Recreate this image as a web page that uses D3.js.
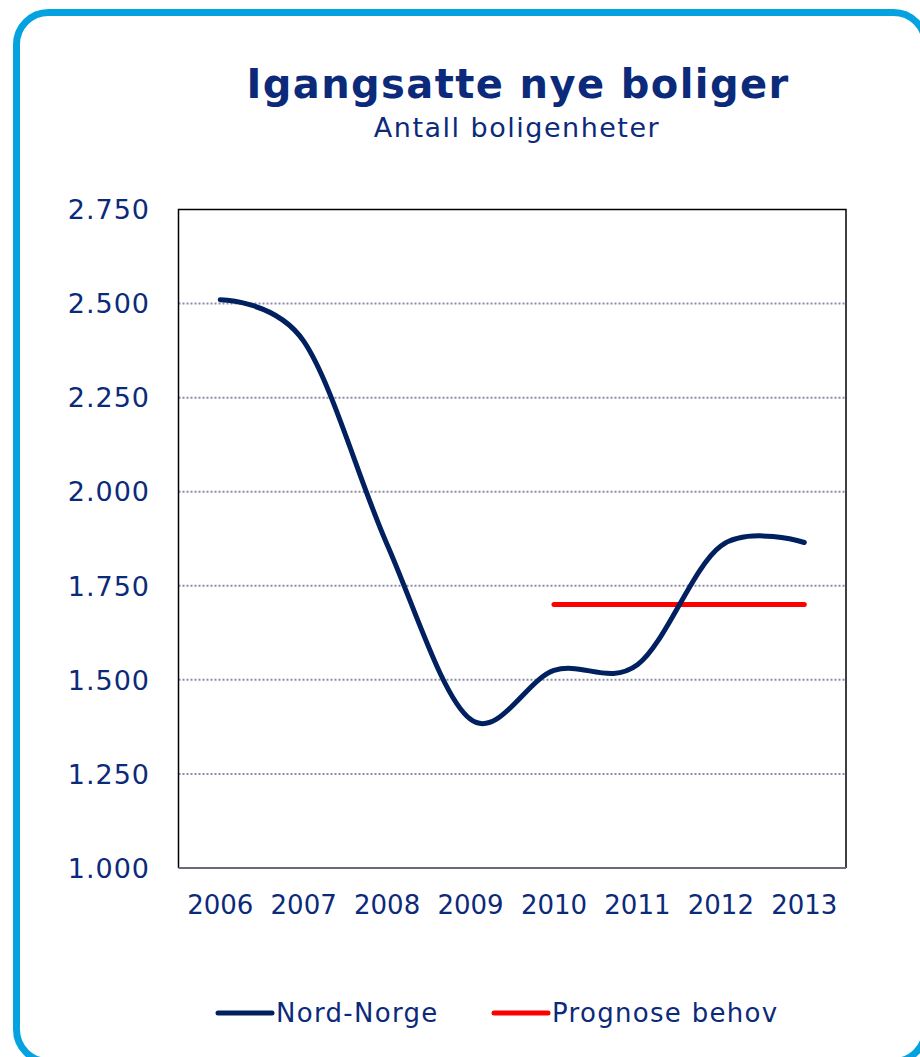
<!DOCTYPE html>
<html>
<head>
<meta charset="utf-8">
<script src="https://cdn.jsdelivr.net/npm/d3@7"></script>
<style>
  body { margin: 0; background: #fff; }
  svg { display: block; font-family: "DejaVu Sans", Verdana, sans-serif; }
</style>
</head>
<body>
<div id="chart"></div>
<script>
// Igangsatte nye boliger - Nord-Norge vs prognose
const years = ["2006", "2007", "2008", "2009", "2010", "2011", "2012", "2013"];
const nordNorge = [2510, 2400, 1860, 1395, 1525, 1540, 1856, 1865];
const prognoseYears = ["2010", "2011", "2012", "2013"];
const prognose = [1700, 1700, 1700, 1700];
const yTicks = [1000, 1250, 1500, 1750, 2000, 2250, 2500, 2750];
const legendLabels = ["Nord-Norge", "Prognose behov"];

const W = 920, H = 1057;
const textColor = "#0c2a7a";
const navy = "#00205f";
const red = "#ff0000";

const svg = d3.select("#chart").append("svg")
    .attr("width", W).attr("height", H);

// rounded frame
svg.append("rect")
    .attr("x", 16.5).attr("y", 12.5)
    .attr("width", 909).attr("height", 1049)
    .attr("rx", 32).attr("ry", 32)
    .attr("fill", "#fff").attr("stroke", "#05a2e0").attr("stroke-width", 7);

// titles
svg.append("text").attr("x", 518).attr("y", 98)
    .attr("text-anchor", "middle").attr("fill", textColor)
    .attr("font-size", 40).attr("font-weight", "bold")
    .attr("letter-spacing", 1.4)
    .text("Igangsatte nye boliger");
svg.append("text").attr("x", 517).attr("y", 137)
    .attr("text-anchor", "middle").attr("fill", textColor)
    .attr("font-size", 27).attr("letter-spacing", 1.5)
    .text("Antall boligenheter");

const plot = {left: 178.5, right: 846, top: 209.5, bottom: 868};

const x = d3.scaleBand().domain(years).range([plot.left, plot.right]);
const y = d3.scaleLinear().domain([1000, 2750]).range([plot.bottom, plot.top]);
const cx = d => x(d) + x.bandwidth() / 2;

// gridlines
svg.append("g").selectAll("line")
    .data(yTicks.filter(t => t > 1000 && t < 2750))
    .join("line")
    .attr("x1", plot.left).attr("x2", plot.right)
    .attr("y1", d => y(d)).attr("y2", d => y(d))
    .attr("stroke", "#8a8aa8").attr("stroke-width", 2)
    .attr("stroke-dasharray", "2,2");

// plot frame
svg.append("path")
    .attr("d", `M${plot.left},${plot.bottom}V${plot.top}H${plot.right}V${plot.bottom}`)
    .attr("fill", "none").attr("stroke", "#000").attr("stroke-width", 1.5);
svg.append("line")
    .attr("x1", plot.left).attr("x2", plot.right)
    .attr("y1", plot.bottom).attr("y2", plot.bottom)
    .attr("stroke", "#6a6a80").attr("stroke-width", 2);

// y axis labels
svg.append("g").selectAll("text")
    .data(yTicks)
    .join("text")
    .attr("x", 150).attr("y", d => y(d))
    .attr("dy", "0.36em")
    .attr("text-anchor", "end").attr("fill", textColor)
    .attr("font-size", 27).attr("letter-spacing", 1)
    .text(d => d3.format(",")(d).replace(",", "."));

// x axis labels
svg.append("g").selectAll("text")
    .data(years)
    .join("text")
    .attr("x", d => cx(d)).attr("y", 914)
    .attr("text-anchor", "middle").attr("fill", textColor)
    .attr("font-size", 26)
    .text(d => d);

// lines
const line = d3.line().curve(d3.curveCardinal.tension(0))
    .x(d => cx(d[0])).y(d => y(d[1]));

svg.append("path")
    .datum(prognoseYears.map((yr, i) => [yr, prognose[i]]))
    .attr("d", d3.line().x(d => cx(d[0])).y(d => y(d[1])))
    .attr("fill", "none").attr("stroke", red)
    .attr("stroke-width", 5).attr("stroke-linecap", "round");

svg.append("path")
    .datum(years.map((yr, i) => [yr, nordNorge[i]]))
    .attr("d", line)
    .attr("fill", "none").attr("stroke", navy)
    .attr("stroke-width", 5).attr("stroke-linecap", "round");

// legend
const legend = [
    {label: legendLabels[0], color: navy, x: 218},
    {label: legendLabels[1], color: red, x: 494}
];
const lg = svg.append("g").selectAll("g").data(legend).join("g");
lg.append("line")
    .attr("x1", d => d.x).attr("x2", d => d.x + 54)
    .attr("y1", 1013).attr("y2", 1013)
    .attr("stroke", d => d.color).attr("stroke-width", 5)
    .attr("stroke-linecap", "round");
lg.append("text")
    .attr("x", d => d.x + 58).attr("y", 1022)
    .attr("fill", textColor).attr("font-size", 26)
    .attr("letter-spacing", 1.3)
    .text(d => d.label);
</script>
</body>
</html>
